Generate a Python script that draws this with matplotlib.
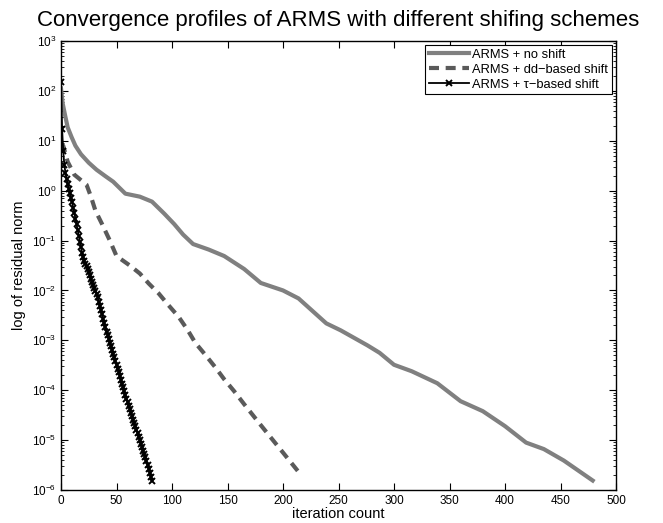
import numpy as np
from matplotlib import pyplot as plt
from matplotlib.ticker import LogLocator, MultipleLocator, NullFormatter


# data (log10 of residual norm) ----------------------------------------------------------------------------------------
no_shift_iter = [0, 1.5, 3.5, 6, 9.6, 13, 18, 25, 32, 40, 47, 58, 71, 82, 93, 102, 110, 119, 133, 147, 165, 180,
                 200, 214, 228, 239, 252, 276, 287, 300, 316, 339, 360, 380, 400, 419, 435, 453, 479]
no_shift_log = [2.05, 1.75, 1.53, 1.27, 1.07, 0.90, 0.73, 0.56, 0.42, 0.29, 0.18, -0.06, -0.12, -0.22, -0.46, -0.67,
                -0.88, -1.07, -1.18, -1.31, -1.57, -1.85, -2.00, -2.16, -2.44, -2.66, -2.80, -3.10, -3.25, -3.49,
                -3.62, -3.86, -4.22, -4.42, -4.72, -5.05, -5.18, -5.41, -5.81]

dd_iter = [0, 2, 6, 12, 23, 27, 31, 37, 44, 50, 62, 71, 79, 88, 97, 106, 114, 121, 130, 139, 147, 156, 165, 180,
           200, 217]
dd_log = [0.95, 0.90, 0.58, 0.32, 0.12, -0.12, -0.40, -0.67, -1.00, -1.31, -1.50, -1.66, -1.86, -2.06, -2.30, -2.53,
          -2.79, -3.05, -3.29, -3.54, -3.78, -4.02, -4.28, -4.70, -5.25, -5.72]

tau_log = [2.18, 1.23, 0.80, 0.52, 0.36, 0.24, 0.13, 0.04, -0.05, -0.14,
           -0.23, -0.34, -0.45, -0.56, -0.67, -0.79, -0.90, -1.02, -1.13, -1.25,
           -1.33, -1.40, -1.46, -1.52, -1.58, -1.64, -1.70, -1.77, -1.83, -1.89,
           -1.95, -2.01, -2.07, -2.14, -2.23, -2.31, -2.40, -2.48, -2.57, -2.66,
           -2.74, -2.83, -2.90, -2.98, -3.05, -3.12, -3.20, -3.27, -3.34, -3.42,
           -3.49, -3.57, -3.64, -3.72, -3.79, -3.87, -3.94, -4.02, -4.09, -4.17,
           -4.24, -4.31, -4.38, -4.45, -4.52, -4.59, -4.66, -4.72, -4.79, -4.86,
           -4.93, -5.00, -5.07, -5.14, -5.21, -5.28, -5.34, -5.42, -5.50, -5.58,
           -5.65, -5.73, -5.81]

labels = ['ARMS + no shift', 'ARMS + dd\u2212based shift', 'ARMS + \u03c4\u2212based shift']
# ----------------------------------------------------------------------------------------------------------------------


# plot graph -----------------------------------------------------------------------------------------------------------
def plot_graph():
    plt.rcParams['font.family'] = ['Liberation Sans', 'DejaVu Sans']
    fig = plt.figure(figsize=(6.63, 5.23), dpi=100)
    ax = fig.add_axes([61 / 663, 33 / 523, 555 / 663, 449 / 523])

    ax.semilogy(no_shift_iter, 10 ** np.array(no_shift_log), color='#808080', lw=3, label=labels[0])
    ax.semilogy(dd_iter, 10 ** np.array(dd_log), color='#5a5a5a', lw=3, dashes=(2.4, 1.6), label=labels[1])
    ax.semilogy(range(len(tau_log)), 10 ** np.array(tau_log), color='black', lw=1.3,
                marker='x', ms=4, mew=1.4, label=labels[2])

    ax.set_xlim(0, 500)
    ax.set_ylim(1e-6, 1e3)
    ax.xaxis.set_major_locator(MultipleLocator(50))
    ax.yaxis.set_major_locator(LogLocator(base=10, numticks=20))
    ax.yaxis.set_minor_locator(LogLocator(base=10, subs=np.arange(2, 10), numticks=20))
    ax.yaxis.set_minor_formatter(NullFormatter())
    ax.tick_params(which='both', direction='in', top=True, right=True, labelsize=8.5)
    ax.tick_params(which='major', length=5)
    ax.tick_params(which='minor', length=2.5)
    for side in ax.spines.values():
        side.set_linewidth(1.0)

    ax.set_xlabel('iteration count', fontsize=10.5, labelpad=0)
    ax.set_ylabel('log of residual norm', fontsize=10.5, labelpad=4)
    ax.set_title('Convergence profiles of ARMS with different shifing schemes', fontsize=16, pad=11)

    leg = ax.legend(loc='upper right', fontsize=9.3, handlelength=3.1, borderaxespad=0.3,
                    fancybox=False, framealpha=1, edgecolor='black', borderpad=0.3, labelspacing=0.22,
                    handletextpad=0.25)
    leg.get_frame().set_linewidth(0.8)

    fig.savefig('out.png', dpi=100)
# ----------------------------------------------------------------------------------------------------------------------


if __name__ == '__main__':
    plot_graph()
